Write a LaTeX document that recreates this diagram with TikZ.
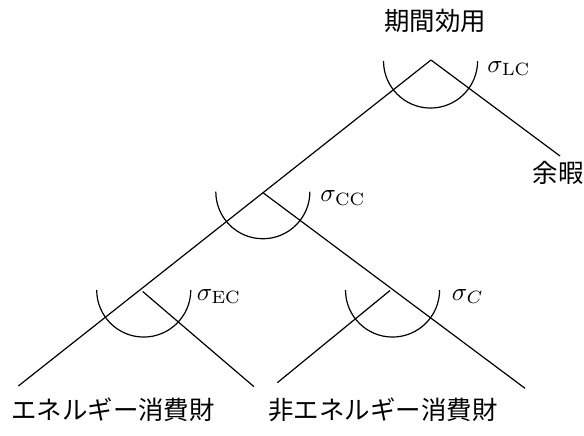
\RequirePackage{fix-cm}
\documentclass[tikz,border=0pt]{standalone}
\usepackage{fontspec}
\newfontfamily\cjk{Noto Sans CJK JP}
\newcommand{\labsize}{\fontsize{10.6pt}{12.7pt}\selectfont}
\begin{document}
\begin{tikzpicture}[x=0.4167pt,y=-0.4167pt,
  branch/.style={line width=0.5pt},
  elast/.style={line width=0.5pt},
  jlabel/.style={inner sep=0pt,font=\labsize\cjk},
  slabel/.style={inner sep=0pt,anchor=base west,font=\labsize}]
\useasboundingbox (0,0) rectangle (584,435);
% junction points and free ends
\coordinate (top) at (431,60);
\coordinate (mid) at (262.7,192.5);
\coordinate (ll) at (142.7,291.5);
\coordinate (lr) at (390,290.5);
\coordinate (llend) at (18.3,386);
\coordinate (llr) at (254,386.7);
\coordinate (lrl) at (277.3,382.7);
\coordinate (lrend) at (525,388.3);
\coordinate (leis) at (560,156);
% labels
\node[jlabel] (util) at (435,21) {期間効用};
\node[jlabel] (leisure) at (558,173) {余暇};
\node[jlabel] (energy) at (113,410) {エネルギー消費財};
\node[jlabel] (nonenergy) at (383,410) {非エネルギー消費財};
\node[slabel] (slc) at (487,72) {$\sigma_{\mathrm{LC}}$};
\node[slabel] (scc) at (320,201.5) {$\sigma_{\mathrm{CC}}$};
\node[slabel] (sec) at (196.5,300) {$\sigma_{\mathrm{EC}}$};
\node[slabel] (sc) at (451.5,300) {$\sigma_{C}$};
% branches
\draw[branch] (top) -- (llend);
\draw[branch] (top) -- (leis);
\draw[branch] (mid) -- (lrend);
\draw[branch] (ll) -- (llr);
\draw[branch] (lr) -- (lrl);
% elasticity arcs
\draw[elast] (430.5,61) ++(-47,0) arc[start angle=180,end angle=360,radius=19.6pt];
\draw[elast] (262.8,191.7) ++(-47,0) arc[start angle=180,end angle=360,radius=19.6pt];
\draw[elast] (143.7,290) ++(-47,0) arc[start angle=180,end angle=360,radius=19.6pt];
\draw[elast] (392.5,290) ++(-47,0) arc[start angle=180,end angle=360,radius=19.6pt];
\end{tikzpicture}
\end{document}
